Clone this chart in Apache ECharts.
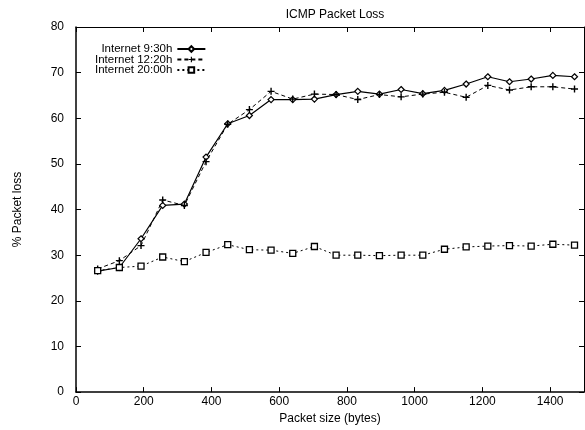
<!DOCTYPE html>
<html lang="en" style="height: 100%">
  <head>
    <meta charset="utf-8" />
    <script src="https://cdn.jsdelivr.net/npm/echarts@6/dist/echarts.min.js"></script>
  </head>
  <body style="height: 100%; margin: 0; background: #fff">
    <div id="container" style="width: 585px; height: 430px"></div>
    <script type="text/javascript">
      // packet sizes (bytes)
      const sizes = [64, 128, 192, 256, 320, 384, 448, 512, 576, 640, 704, 768,
        832, 896, 960, 1024, 1088, 1152, 1216, 1280, 1344, 1408, 1472];
      // % packet loss per run
      const loss0930 = [26.5, 27.3, 33.6, 40.9, 41.2, 51.5, 58.8, 60.6, 64.1, 64.1, 64.2, 65.2,
        65.9, 65.3, 66.3, 65.4, 66.1, 67.5, 69.1, 68.0, 68.6, 69.4, 69.1];
      const loss1220 = [27.0, 28.8, 32.1, 42.1, 40.9, 50.5, 58.7, 61.9, 65.9, 64.2, 65.3, 65.2,
        64.1, 65.2, 64.7, 65.3, 65.7, 64.6, 67.2, 66.2, 66.9, 66.9, 66.4];
      const loss2000 = [26.6, 27.3, 27.6, 29.6, 28.6, 30.6, 32.3, 31.2, 31.1, 30.4, 31.9, 30.0,
        30.0, 29.9, 30.0, 30.0, 31.3, 31.8, 32.0, 32.1, 32.0, 32.4, 32.2];
      const seriesNames = ["Internet 9:30h", "Internet 12:20h", "Internet 20:00h"];

      function pairs(ys) {
        return sizes.map(function (x, i) { return [x, ys[i]]; });
      }

      var font = "Liberation Sans";
      var plus = "path://M4,0h2v4h4v2h-4v4h-2v-4h-4v-2h4z";

      var chart = echarts.init(document.getElementById("container"), null, { renderer: "canvas" });

      var tickIn = { show: true, inside: true, length: 5, lineStyle: { color: "#000" } };
      var option = {
        animation: false,
        backgroundColor: "#fff",
        textStyle: { fontFamily: font, color: "#000" },
        title: {
          text: "ICMP Packet Loss",
          left: 330, textAlign: "center", top: 4,
          textStyle: { fontFamily: font, fontSize: 12, fontWeight: "normal", color: "#000" },
        },
        legend: {
          orient: "vertical",
          align: "right",
          left: 90, top: 38,
          itemGap: -1.5,
          itemWidth: 28, itemHeight: 7,
          textStyle: { fontFamily: font, fontSize: 11.5, lineHeight: 10, color: "#000", padding: 0 },
          data: seriesNames,
        },
        grid: { left: 76, right: 1, top: 27, bottom: 33 },
        xAxis: [
          {
            type: "value", min: 0, max: 1500, interval: 200,
            name: "Packet size (bytes)", nameLocation: "middle", nameGap: 14,
            nameTextStyle: { fontFamily: font, fontSize: 12, color: "#000" },
            axisLine: { show: true, onZero: false, lineStyle: { color: "#000", width: 1.5 } },
            axisTick: tickIn,
            axisLabel: {
              fontFamily: font, fontSize: 12, color: "#000", margin: 4, showMaxLabel: false,
              formatter: function (v) { return String(v); },
            },
            splitLine: { show: false },
          },
          {
            type: "value", position: "top", min: 0, max: 1500, interval: 200,
            axisLine: { show: true, onZero: false, lineStyle: { color: "#000" } },
            axisTick: tickIn,
            axisLabel: { show: false },
            splitLine: { show: false },
          },
        ],
        yAxis: [
          {
            type: "value", min: 0, max: 80, interval: 10,
            name: "% Packet loss", nameLocation: "middle", nameGap: 52, nameRotate: 90,
            nameTextStyle: { fontFamily: font, fontSize: 12, color: "#000" },
            axisLine: { show: true, onZero: false, lineStyle: { color: "#000", width: 1.5 } },
            axisTick: tickIn,
            axisLabel: { fontFamily: font, fontSize: 12, color: "#000", margin: 12 },
            splitLine: { show: false },
          },
          {
            type: "value", position: "right", min: 0, max: 80, interval: 10,
            axisLine: { show: true, onZero: false, lineStyle: { color: "#000" } },
            axisTick: tickIn,
            axisLabel: { show: false },
            splitLine: { show: false },
          },
        ],
        series: [
          {
            name: seriesNames[0], type: "line", data: pairs(loss0930),
            symbol: "diamond", symbolSize: 6, showAllSymbol: true,
            lineStyle: { color: "#000", width: 1.2, type: "solid" },
            itemStyle: { color: "#fff", borderColor: "#000", borderWidth: 1.2 },
          },
          {
            name: seriesNames[1], type: "line", data: pairs(loss1220),
            symbol: plus, symbolSize: 7, showAllSymbol: true,
            lineStyle: { color: "#000", width: 1, type: [4, 3] },
            itemStyle: { color: "#000", borderWidth: 0 },
          },
          {
            name: seriesNames[2], type: "line", data: pairs(loss2000),
            symbol: "rect", symbolSize: 6, showAllSymbol: true,
            lineStyle: { color: "#000", width: 1, type: [2, 3] },
            itemStyle: { color: "#fff", borderColor: "#000", borderWidth: 1.3 },
          },
        ],
      };
      chart.setOption(option);
    </script>
  </body>
</html>
